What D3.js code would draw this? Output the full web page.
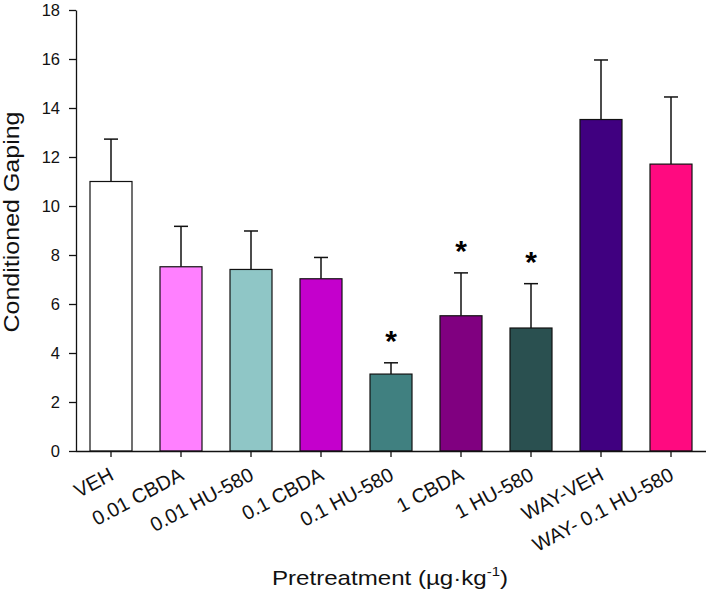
<!DOCTYPE html>
<html>
<head>
<meta charset="utf-8">
<script src="https://cdn.jsdelivr.net/npm/d3@7"></script>
<style>
  body { margin: 0; background: #fff; }
  text { font-family: "Liberation Sans", Arial, sans-serif; }
</style>
</head>
<body>
<div id="chart"></div>
<script>
const groups = ["VEH", "0.01 CBDA", "0.01 HU-580", "0.1 CBDA", "0.1 HU-580", "1 CBDA", "1 HU-580", "WAY-VEH", "WAY- 0.1 HU-580"];
const means = [11.0, 7.52, 7.41, 7.03, 3.14, 5.52, 5.02, 13.53, 11.71];
const errTops = [12.73, 9.17, 8.98, 7.9, 3.6, 7.27, 6.83, 15.96, 14.45];
const signif = [false, false, false, false, true, true, true, false, false];
const colors = ["#ffffff", "#ff80ff", "#8fc6c6", "#c400cc", "#408080", "#800080", "#2a5050", "#400080", "#ff0a80"];
const yTicks = [0, 2, 4, 6, 8, 10, 12, 14, 16, 18];

function drawBars() {
    const width = 709;
    const height = 610;
    const margin = { top: 10, bottom: 159, left: 76, right: 3 };

    const svg = d3.select("#chart")
        .append("svg")
        .attr("width", width)
        .attr("height", height);

    const x = d3.scaleBand()
        .domain(groups)
        .range([margin.left, width - margin.right])
        .paddingInner(0.4)
        .paddingOuter(0.2);

    const y = d3.scaleLinear()
        .domain([0, 18])
        .range([height - margin.bottom, margin.top]);

    const data = groups.map((g, i) => ({ g: g, m: means[i], e: errTops[i], s: signif[i], c: colors[i] }));

    // error bars (upper only)
    svg.selectAll(".err")
        .data(data)
        .enter()
        .append("line")
        .attr("x1", d => x(d.g) + x.bandwidth() / 2)
        .attr("x2", d => x(d.g) + x.bandwidth() / 2)
        .attr("y1", d => y(d.m))
        .attr("y2", d => y(d.e))
        .attr("stroke", "#111")
        .attr("stroke-width", 1.5);

    svg.selectAll(".cap")
        .data(data)
        .enter()
        .append("line")
        .attr("x1", d => x(d.g) + x.bandwidth() / 2 - 7)
        .attr("x2", d => x(d.g) + x.bandwidth() / 2 + 7)
        .attr("y1", d => y(d.e))
        .attr("y2", d => y(d.e))
        .attr("stroke", "#111")
        .attr("stroke-width", 1.5);

    svg.selectAll("rect")
        .data(data)
        .enter()
        .append("rect")
        .attr("x", d => x(d.g))
        .attr("y", d => y(d.m))
        .attr("width", x.bandwidth())
        .attr("height", d => y(0) - y(d.m))
        .attr("fill", d => d.c)
        .attr("stroke", "#111")
        .attr("stroke-width", 1.2);

    svg.selectAll(".star")
        .data(data.filter(d => d.s))
        .enter()
        .append("text")
        .attr("x", d => x(d.g) + x.bandwidth() / 2)
        .attr("y", d => y(d.e) - 12)
        .attr("text-anchor", "middle")
        .style("font-size", "30px")
        .style("font-weight", "bold")
        .text("*");

    const yAxis = svg.append("g")
        .attr("transform", `translate(${margin.left},0)`)
        .call(d3.axisLeft(y).tickValues(yTicks).tickSize(7).tickPadding(9).tickSizeOuter(0));
    yAxis.selectAll("text").style("font-size", "16.5px").attr("fill", "#111");
    yAxis.selectAll("line, path").attr("stroke", "#111").attr("stroke-width", 1.3);

    const xAxis = svg.append("g")
        .attr("transform", `translate(0,${y(0)})`)
        .call(d3.axisBottom(x).tickSize(6).tickSizeOuter(0));
    xAxis.selectAll("line, path").attr("stroke", "#111").attr("stroke-width", 1.3);
    xAxis.select(".domain").attr("d", `M${margin.left},0.5H${width - margin.right}`);
    xAxis.selectAll("text")
        .style("font-size", "20px")
        .attr("fill", "#111")
        .attr("dy", 0)
        .attr("y", 0)
        .attr("x", 0)
        .attr("transform", "translate(4,28) rotate(-28)")
        .style("text-anchor", "end");

    svg.append("text")
        .attr("transform", "rotate(-90)")
        .attr("x", -222)
        .attr("y", 19)
        .attr("text-anchor", "middle")
        .attr("textLength", 221)
        .attr("lengthAdjust", "spacingAndGlyphs")
        .style("font-size", "22px")
        .attr("fill", "#111")
        .text("Conditioned Gaping");

    const xt = svg.append("text")
        .attr("x", 272)
        .attr("y", 585)
        .attr("textLength", 236)
        .attr("lengthAdjust", "spacingAndGlyphs")
        .style("font-size", "21px")
        .attr("fill", "#111");
    xt.append("tspan").text("Pretreatment (µg·kg");
    xt.append("tspan").attr("dy", "-9").style("font-size", "13px").text("-1");
    xt.append("tspan").attr("dy", "9").text(")");
}

drawBars();
</script>
</body>
</html>
